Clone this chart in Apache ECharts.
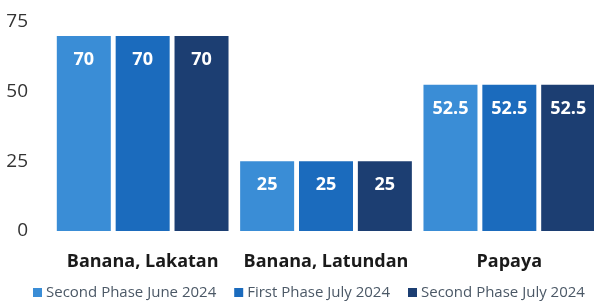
<!DOCTYPE html>
<html>
<head>
<meta charset="utf-8">
<script src="https://cdn.jsdelivr.net/npm/echarts@6/dist/echarts.min.js"></script>
<style>
  html, body { margin: 0; padding: 0; background: #fff; overflow: hidden; }
  #chart { width: 604px; height: 302px; }
</style>
</head>
<body>
<div id="chart"></div>
<script>
// categories and series values
const crops = ["Banana, Lakatan", "Banana, Latundan", "Papaya"];
const secondPhaseJune = [70, 25, 52.5];
const firstPhaseJuly = [70, 25, 52.5];
const secondPhaseJuly = [70, 25, 52.5];
const seriesNames = ["Second Phase June 2024", "First Phase July 2024", "Second Phase July 2024"];
const colors = ["#3a8dd6", "#1b6bbd", "#1c3e72"];

const chart = echarts.init(document.getElementById("chart"));

function barSeries(name, data, color) {
  return {
    name: name,
    type: "bar",
    data: data,
    barWidth: 54,
    barGap: "9%",
    itemStyle: { color: color },
    label: {
      show: true,
      position: "insideTop",
      distance: 15,
      color: "#fff",
      fontFamily: "Open Sans",
      fontWeight: "bold",
      fontSize: 18,
    },
  };
}

chart.setOption({
  animation: false,
  color: colors,
  textStyle: { fontFamily: "Open Sans" },
  grid: { left: 51, top: 22, width: 550, height: 209 },
  legend: {
    top: 280,
    left: 28,
    itemWidth: 9,
    itemHeight: 9,
    itemGap: 18,
    icon: "rect",
    textStyle: { color: "#4b5866", fontSize: 15, fontFamily: "Open Sans", padding: [0, 0, 0, -1] },
    data: seriesNames,
  },
  xAxis: {
    type: "category",
    data: crops,
    axisLine: { show: false },
    axisTick: { show: false },
    axisLabel: {
      interval: 0,
      margin: 22,
      color: "#1a1a1a",
      fontSize: 18,
      fontWeight: "bold",
      fontFamily: "Open Sans",
    },
  },
  yAxis: {
    type: "value",
    min: 0,
    max: 75,
    interval: 25,
    splitLine: { show: false },
    axisLabel: { margin: 23, color: "#333", fontSize: 19, fontFamily: "Open Sans" },
  },
  series: [
    barSeries(seriesNames[0], secondPhaseJune, colors[0]),
    barSeries(seriesNames[1], firstPhaseJuly, colors[1]),
    barSeries(seriesNames[2], secondPhaseJuly, colors[2]),
  ],
});
</script>
</body>
</html>
